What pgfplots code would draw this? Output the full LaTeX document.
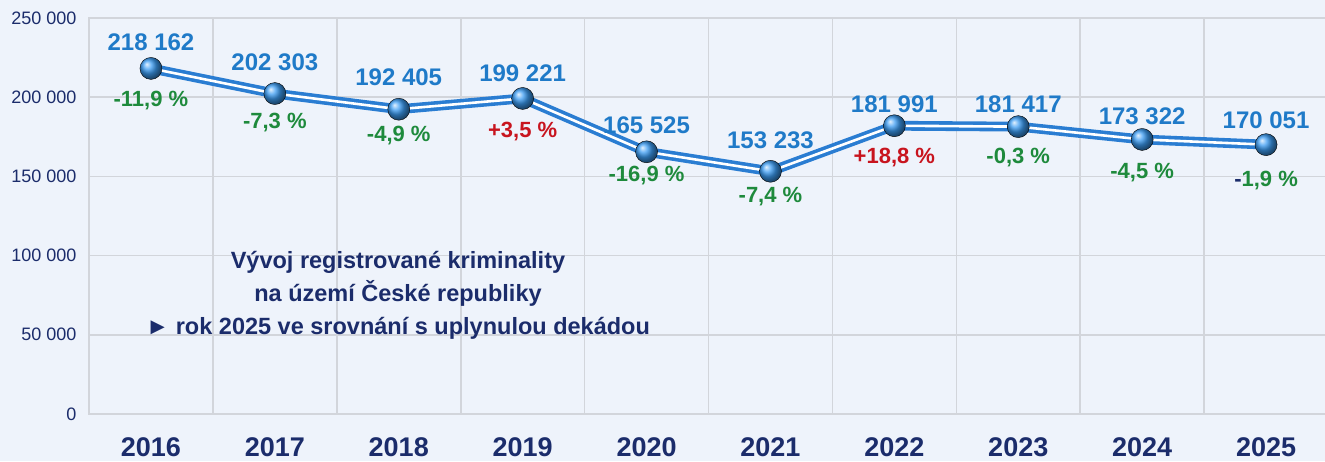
\documentclass[border=0pt]{standalone}
\usepackage{pgfplots}
\usepackage{pgfplotstable}
\pgfplotsset{compat=1.18}
\usepackage{fontspec}
\setmainfont{Liberation Sans}
\definecolor{bg}{HTML}{EEF3FB}
\definecolor{gridc}{HTML}{D2D5DB}
\definecolor{navy}{HTML}{1B2C6B}
\definecolor{valblue}{HTML}{1F7AC8}
\definecolor{pgreen}{HTML}{1E8A3C}
\definecolor{pred}{HTML}{C8141E}
\definecolor{lineblue}{HTML}{2A7DD2}
\definecolor{ballblue}{HTML}{3C9CF2}
\pgfplotstableread[col sep=semicolon]{
x;y;val;dv;pct;dp
0;218162;218~162;26;\textcolor{pgreen}{-11,9~\%};-32
1;202303;202~303;31;\textcolor{pgreen}{-7,3~\%};-29
2;192405;192~405;32;\textcolor{pgreen}{-4,9~\%};-26
3;199221;199~221;25;\textcolor{pred}{+3,5~\%};-33
4;165525;165~525;26.5;\textcolor{pgreen}{-16,9~\%};-23.5
5;153233;153~233;31;\textcolor{pgreen}{-7,4~\%};-25
6;181991;181~991;21.5;\textcolor{pred}{+18,8~\%};-31.5
7;181417;181~417;22.5;\textcolor{pgreen}{-0,3~\%};-31
8;173322;173~322;23;\textcolor{pgreen}{-4,5~\%};-33
9;170051;170~051;24;\textcolor{navy}{-}\textcolor{pgreen}{1,9~\%};-36
}\data
\begin{document}
\begin{tikzpicture}[x=1pt,y=1pt]
\fill[bg] (0,0) rectangle (1325,461);
\begin{axis}[
  at={(89pt,47pt)}, anchor=south west,
  width=1239pt, height=396pt, scale only axis,
  xmin=-0.5, xmax=9.5, ymin=0, ymax=250000,
  scaled y ticks=false,
  axis background/.style={fill=bg},
  axis line style={draw=gridc, line width=1.8pt},
  xtick={0,...,9},
  xticklabels={2016,2017,2018,2019,2020,2021,2022,2023,2024,2025},
  minor xtick={-0.5,0.5,...,9.5},
  xminorgrids=true,
  ytick={0,50000,100000,150000,200000,250000},
  yticklabels={0,50 000,100 000,150 000,200 000,250 000},
  ymajorgrids=true,
  grid style={draw=gridc, line width=1.6pt},
  minor grid style={draw=gridc, line width=1.6pt},
  major tick length=0pt, minor tick length=0pt,
  xticklabel style={font=\bfseries\fontsize{27}{27}\selectfont, text=navy, anchor=center, yshift=-33pt},
  yticklabel style={font=\fontsize{18}{18}\selectfont, text=navy, xshift=-9pt},
  clip=false,
]
\addplot[draw=none, nodes near coords, point meta=explicit symbolic,
  visualization depends on={\thisrow{dp}\as\pdy},
  nodes near coords style={anchor=center, yshift=\pdy pt, font=\bfseries\fontsize{22}{22}\selectfont}]
  table[x=x, y=y, meta=pct] {\data};
\addplot[lineblue, line width=3.6pt, double=white, double distance=2.6pt, mark=none]
  table[x=x, y=y] {\data};
\addplot[only marks, mark=ball, mark size=11pt, mark options={draw=none, ball color=ballblue},
  nodes near coords, point meta=explicit symbolic,
  visualization depends on={\thisrow{dv}\as\vdy},
  nodes near coords style={anchor=center, yshift=\vdy pt, font=\bfseries\fontsize{24}{24}\selectfont, text=valblue}]
  table[x=x, y=y, meta=val] {\data};
\end{axis}
\node[align=center, text=navy, font=\bfseries\fontsize{23.5}{33}\selectfont] at (398,166)
  {Vývoj registrované kriminality\\na území České republiky\\► rok 2025 ve srovnání s uplynulou dekádou};
\pgfresetboundingbox
\useasboundingbox (0,0) rectangle (1325,461);
\end{tikzpicture}
\end{document}
